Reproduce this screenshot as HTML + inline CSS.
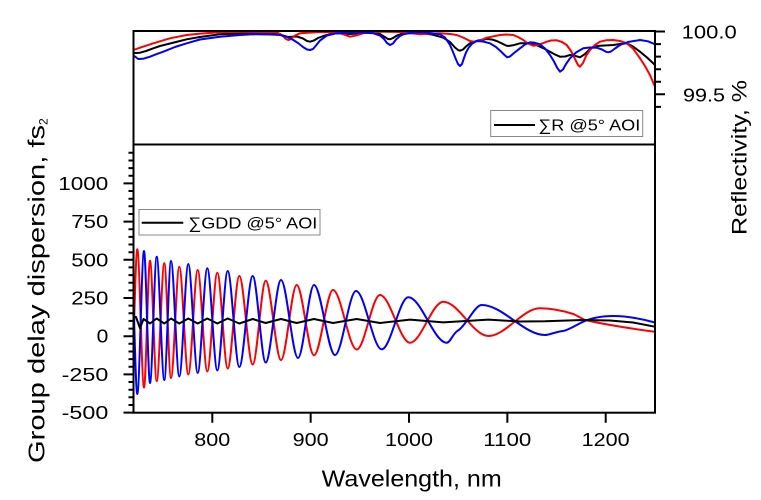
<!DOCTYPE html>
<html><head><meta charset="utf-8"><style>
html,body{margin:0;padding:0;background:#fff;}
svg{display:block;font-family:"Liberation Sans",sans-serif;}
</style></head><body>
<svg xmlns="http://www.w3.org/2000/svg" width="761" height="500" viewBox="0 0 761 500">
<rect width="761" height="500" fill="#fff"/>
<defs>
<clipPath id="ct"><rect x="134.5" y="31" width="520" height="113"/></clipPath>
<clipPath id="cb"><rect x="134.5" y="145" width="520" height="267"/></clipPath>
</defs>

<!-- top panel curves -->
<g clip-path="url(#ct)" fill="none" stroke-width="2" stroke-linejoin="round" stroke-linecap="round">
<path stroke="#000" d="M132,52.7 L136,53 140,52.7 146,51 153.3,48.3 160,46 170,43.5 180,41 186.7,39.3 200,37 220,34.3 240,33.5 253,33.3 276.7,34 283,35.5 288,37 292,36.8 297,36.5 303,38.5 307,41 310,41.7 314,40.5 318,38 323.3,36 330,34.2 336.7,33.3 350,34 362,33 373.3,32.3 380,34 384,36.5 388,39 390,39.3 393,38 397,35.5 403.3,33.3 420,33.3 432,34.5 443.3,37.7 450,42 455,47.5 458,50 460,50.7 463,49.5 466,46.5 470,43.3 478,40.5 486.7,39 492,39.5 496.7,41 502,43.5 506,45.5 508.3,46 513,45.3 520,43.3 530,43.3 535,44.5 540,46.7 545,49 550,51.7 555,54.5 560,56.7 565,56.5 570,55 575,55.8 580,57.3 585,54 589,50 593.3,46.7 600,45.8 613.3,45 620,44 626.7,43.3 633,46.5 640,51.7 647,57.5 655,65 658,68"/>
<path stroke="#f00" d="M132,50.5 L140,47.7 153.3,43.3 170,38.3 186.7,35 200,33.6 220,32.3 250,31.8 276.7,32.3 282,35 286,39 288.3,40 291,39 295,35.5 300,33.3 320,32 336.7,32.3 344,34.5 350,36.7 356,35.5 363,33.3 380,31.8 400,32 410,33 420,34.3 430,33.5 440,33.3 450,34 456.7,35 463,37.5 470,41 475,41.7 480,40.5 486.7,37.7 500,35 506,34.5 513.3,35 518,37 523.3,40 528,43.5 533.3,45.7 538.3,45 546.7,41.7 551,40.5 556.7,40.3 562,42 566.7,45 571,51 575,59 578,65 580,66.7 583,63 586,56 590,50 595,45 600,41.7 606,40.3 613.3,40 620,41 626.7,43.3 633,48.5 640,58.3 645,66 650,75 655,86.7 658,94"/>
<path stroke="#00f" d="M132,55 L135,56.5 138.3,59 143,58.8 150,56.7 156,54.3 163.3,51.7 175,47 186.7,43.3 200,39.5 220,36.7 240,35 253.3,34.3 270,34.5 280,35 287,37 293.3,40 298,43 303,47 307,49.5 310,50 313,49 316,45.5 320,40.5 326.7,35.7 335,33.5 345,32.7 353,32.3 365,32.7 373.3,33.3 380,35.5 384,39 387,43 390,45 393,43.5 396,39.5 400,36 403.3,34.3 410,33 420,32.3 430,33 440,34.3 445,37.5 450,45 453,52 456,59.5 458,64 460,66 462,64 464,58 466,52.5 468.3,48.3 472,43.8 476.7,41 483,41.5 490,43.3 496,47 501,51.5 505,55.5 507.3,57.3 510,56.5 514,53 520,48.3 525,44.5 530,42.3 535,42.8 540,44.3 545,48.5 550,55 554,61.5 557,67.5 560,71.7 563,69.5 566,64 570,58.3 576,52.5 583.3,48.3 590,47.5 596.7,47.7 602,49.5 606,51.8 608.3,52.3 611,51.5 615,48.5 620,45 628,42 640,40 648,41.3 655,44.3 658,46"/>
</g>

<!-- bottom panel curves -->
<g clip-path="url(#cb)" fill="none" stroke-width="2" stroke-linejoin="round" stroke-linecap="round">
<path stroke="#f00" d="M131,392 C133.1,392 135.2,249.3 137.3,249.3 C139.5,249.3 141.8,387.5 144,387.5 C146,387.5 148,260.7 150,260.7 C152.2,260.7 154.5,381 156.7,381 C159.2,381 161.8,263.3 164.3,263.3 C166.5,263.3 168.8,378 171,378 C173.8,378 176.5,266.7 179.3,266.7 C182.3,266.7 185.3,374.5 188.3,374.5 C191.4,374.5 194.6,270 197.7,270 C200.9,270 204.1,371.5 207.3,371.5 C210.6,371.5 214,272.7 217.3,272.7 C220.8,272.7 224.2,368.5 227.7,368.5 C231.6,368.5 235.4,276 239.3,276 C243.8,276 248.2,364.5 252.7,364.5 C257,364.5 261.4,280.7 265.7,280.7 C270.8,280.7 275.9,360 281,360 C286.2,360 291.5,285 296.7,285 C302.5,285 308.2,355.3 314,355.3 C320.3,355.3 326.7,290 333,290 C340.9,290 348.8,349.5 356.7,349.5 C364.5,349.5 372.2,295 380,295 C390,295 400,342.7 410,342.7 C421.1,342.7 432.2,301.7 443.3,301.7 C458.3,301.7 473.3,336 488.3,336 C505.5,336 522.8,308.3 540,308.3 C551,308.3 562,310.5 573.3,314 C577,315.6 581,318.2 585,320 C605,324.5 630,328.5 660,332.5"/>
<path stroke="#00f" d="M131,249 C133.1,249 135.2,394 137.3,394 C139.5,394 141.8,251 144,251 C146,251 148,383 150,383 C152.2,383 154.5,256.7 156.7,256.7 C159.2,256.7 161.8,380 164.3,380 C166.5,380 168.8,261 171,261 C173.8,261 176.5,376.5 179.3,376.5 C182.3,376.5 185.3,264 188.3,264 C191.4,264 194.6,373 197.7,373 C200.9,373 204.1,268.3 207.3,268.3 C210.6,268.3 214,370.5 217.3,370.5 C220.8,370.5 224.2,271 227.7,271 C231.6,271 235.4,367 239.3,367 C243.8,367 248.2,276 252.7,276 C257,276 261.4,362.5 265.7,362.5 C270.8,362.5 275.9,280 281,280 C286.7,280 292.3,358 298,358 C303.3,358 308.7,285 314,285 C321,285 328,355 335,355 C342,355 349,291 356,291 C364.6,291 373.1,349.3 381.7,349.3 C390.6,349.3 399.4,297.3 408.3,297.3 C421.1,297.3 433.9,342.7 446.7,342.7 C450.5,342.7 453,333 458,330.5 C461,329 465,323.3 467,320.7 C471,315.5 476.8,305 481.7,305 C502.8,305 523.9,335 545,335 C549,335 556,331.7 563,331 C568,330.5 576,325 583.3,321.7 C591,318.2 602,316 613.3,316 C625,316 640,318 660,324"/>
<path stroke="#000" d="M133,316.7 L136,317 140,328.3 143.5,319 150,323.5 156.7,318.5 164.3,323.5 171,318.5 179.3,323.5 188.3,318.5 197.7,323.5 207.3,318.5 217.3,323.5 227.7,318.5 239.3,323.5 252.7,319 265.7,323 281,319 296.7,323 314,319 333,323 356.7,319 380,323 410,319.6 443.3,322.4 488.3,319.6 520,321.5 545,321.3 583,320 610,320.5 633,322.5 655,326.7 660,327.5"/>
</g>

<!-- frame -->
<g fill="none" stroke="#000" stroke-width="2">
<rect x="133.5" y="31" width="521.5" height="381.7"/>
<line x1="133.5" y1="144.5" x2="655" y2="144.5"/>
</g>

<!-- ticks -->
<g stroke="#000" stroke-width="2" fill="none">
<path d="M123.5,412.6H133.5 M123.5,374.4H133.5 M123.5,336.2H133.5 M123.5,298H133.5 M123.5,259.8H133.5 M123.5,221.6H133.5 M123.5,183.4H133.5"/>
<path d="M128.5,405H133.5 M128.5,397.3H133.5 M128.5,389.7H133.5 M128.5,382H133.5 M128.5,366.8H133.5 M128.5,359.1H133.5 M128.5,351.5H133.5 M128.5,343.8H133.5 M128.5,328.6H133.5 M128.5,320.9H133.5 M128.5,313.3H133.5 M128.5,305.6H133.5 M128.5,290.4H133.5 M128.5,282.7H133.5 M128.5,275.1H133.5 M128.5,267.4H133.5 M128.5,252.2H133.5 M128.5,244.5H133.5 M128.5,236.9H133.5 M128.5,229.2H133.5 M128.5,214H133.5 M128.5,206.3H133.5 M128.5,198.7H133.5 M128.5,191H133.5 M128.5,175.8H133.5 M128.5,168.1H133.5 M128.5,160.5H133.5 M128.5,152.8H133.5"/>
<path d="M655,31.5H665 M655,94.3H665 M655,44.1H661 M655,56.6H661 M655,69.2H661 M655,81.7H661 M655,106.9H661"/>
<path d="M212.3,412.7V422.7 M310.65,412.7V422.7 M409,412.7V422.7 M507.35,412.7V422.7 M605.7,412.7V422.7"/>
</g>

<!-- legends -->
<rect x="490.7" y="110.5" width="152" height="26" fill="#fff" stroke="#888" stroke-width="1"/>
<line x1="494" y1="125" x2="535" y2="125" stroke="#000" stroke-width="2"/>
<text x="538.3" y="130.5" font-size="16" textLength="102" lengthAdjust="spacingAndGlyphs">∑R @5° AOI</text>
<rect x="139" y="209.5" width="181" height="25.5" fill="#fff" stroke="#888" stroke-width="1"/>
<line x1="141.7" y1="222.7" x2="183.3" y2="222.7" stroke="#000" stroke-width="2"/>
<text x="188.3" y="228.5" font-size="16" textLength="129" lengthAdjust="spacingAndGlyphs">∑GDD @5° AOI</text>

<!-- tick labels -->
<g font-size="18">
<text x="58.3" y="189.9" textLength="50" lengthAdjust="spacingAndGlyphs">1000</text>
<text x="71.3" y="228.1" textLength="37" lengthAdjust="spacingAndGlyphs">750</text>
<text x="71.3" y="266.3" textLength="37" lengthAdjust="spacingAndGlyphs">500</text>
<text x="71.3" y="304.5" textLength="37" lengthAdjust="spacingAndGlyphs">250</text>
<text x="96.6" y="342.7" textLength="11.7" lengthAdjust="spacingAndGlyphs">0</text>
<text x="61.7" y="380.9" textLength="46.6" lengthAdjust="spacingAndGlyphs">-250</text>
<text x="61.7" y="419.1" textLength="46.6" lengthAdjust="spacingAndGlyphs">-500</text>
<text x="194.3" y="446" textLength="36" lengthAdjust="spacingAndGlyphs">800</text>
<text x="292.6" y="446" textLength="36" lengthAdjust="spacingAndGlyphs">900</text>
<text x="385" y="446" textLength="48" lengthAdjust="spacingAndGlyphs">1000</text>
<text x="483.3" y="446" textLength="48" lengthAdjust="spacingAndGlyphs">1100</text>
<text x="581.7" y="446" textLength="48" lengthAdjust="spacingAndGlyphs">1200</text>
<text x="681.7" y="38.3" textLength="55" lengthAdjust="spacingAndGlyphs">100.0</text>
<text x="683" y="101.5" textLength="42" lengthAdjust="spacingAndGlyphs">99.5</text>
</g>

<!-- axis titles -->
<text x="321.7" y="486.7" font-size="23" textLength="180" lengthAdjust="spacingAndGlyphs">Wavelength, nm</text>
<text transform="translate(44.3,463) rotate(-90)" font-size="23" textLength="338" lengthAdjust="spacingAndGlyphs">Group delay dispersion, fs</text>
<text transform="translate(47.5,125) rotate(-90)" font-size="12">2</text>
<text transform="translate(746.7,235) rotate(-90)" font-size="21" textLength="155" lengthAdjust="spacingAndGlyphs">Reflectivity, %</text>
</svg>
</body></html>
